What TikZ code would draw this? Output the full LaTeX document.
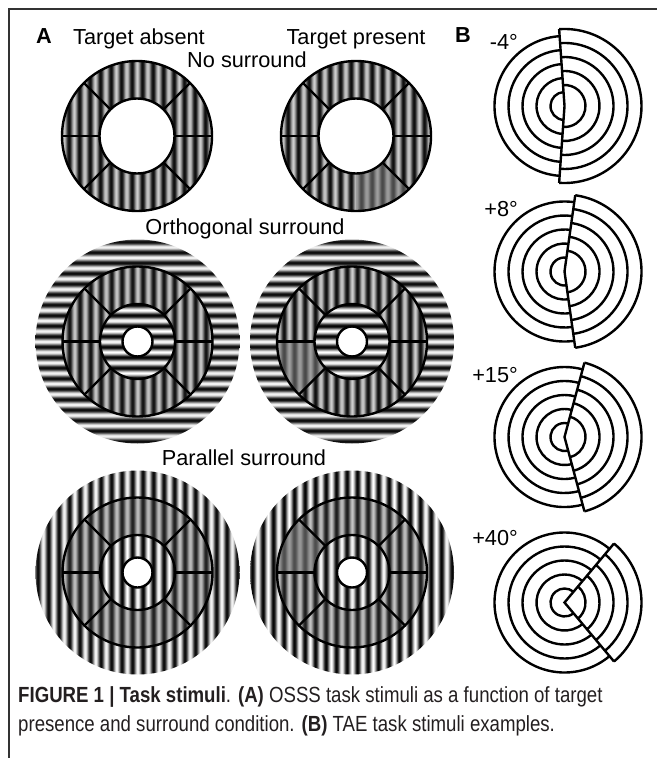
\documentclass[tikz,border=0pt]{standalone}
\usepackage{fontspec}
\setmainfont{Liberation Sans}
\newfontfamily\capfont[FakeStretch=0.85]{Liberation Sans}
\definecolor{captxt}{HTML}{231F20}
\definecolor{framec}{HTML}{333333}

% ---------- sinusoid-like gratings built as shadings ----------
\newcommand\mkcols[3]{%
  \pgfmathsetmacro\ga{#2}\colorlet{#10}{white!\ga!black}%
  \pgfmathsetmacro\ga{#2+0.146*(#3-#2)}\colorlet{#11}{white!\ga!black}%
  \pgfmathsetmacro\ga{#2+0.5*(#3-#2)}\colorlet{#12}{white!\ga!black}%
  \pgfmathsetmacro\ga{#2+0.854*(#3-#2)}\colorlet{#13}{white!\ga!black}%
  \pgfmathsetmacro\ga{#3}\colorlet{#14}{white!\ga!black}%
}
\newcommand\mkstops[1]{%
  \xdef\gstops{color(0bp)=(#10)}%
  \foreach \k in {1,...,168}{%
    \pgfmathtruncatemacro\m{mod(\k,8)}%
    \pgfmathsetmacro\pos{\k*1.3125}%
    \ifcase\m\def\ci{0}\or\def\ci{1}\or\def\ci{2}\or\def\ci{3}\or\def\ci{4}\or\def\ci{3}\or\def\ci{2}\or\def\ci{1}\fi
    \xdef\gstops{\gstops; color(\pos bp)=(#1\ci)}%
  }%
}
\newcommand\mkgrat[1]{%
  \mkstops{c#1}%
  \edef\tmp{\noexpand\pgfdeclarehorizontalshading{V#1}{220.5bp}{\gstops}}\tmp
  \edef\tmp{\noexpand\pgfdeclareverticalshading{H#1}{220.5bp}{\gstops}}\tmp
}
\mkcols{cF}{0}{100}\mkgrat{F}   % full contrast surround
\mkcols{cT}{4}{80}\mkgrat{T}    % target annulus
\mkcols{cS}{28}{62}\mkgrat{S}   % target segment (low contrast)
\mkcols{cP}{10}{76}\mkgrat{P}   % parallel annulus
\mkcols{cQ}{30}{60}\mkgrat{Q}   % parallel target segment

\tikzset{
  shnode/.style={inner sep=0pt, outer sep=0pt},
  ln/.style={line width=2.4bp, black},
  lbl/.style={font=\fontsize{21.8}{26}\selectfont, inner sep=0pt, anchor=base},
  lblb/.style={font=\fontsize{21.8}{26}\selectfont\bfseries, inner sep=0pt, anchor=base},
  capnode/.style={font=\capfont\fontsize{22}{26}\selectfont, text=captxt, inner sep=0pt, anchor=base west},
}
\newcommand\fillcirc[3]{\begin{scope}\clip (#1) circle[radius=#2];\node[shnode] at (#1) {\pgfuseshading{#3}};\end{scope}}
\newcommand\fillseg[4]{\begin{scope}\clip (#1) -- ++(#2:75) arc[start angle=#2, end angle=#3, radius=75] -- cycle;\node[shnode] at (#1) {\pgfuseshading{#4}};\end{scope}}
\newcommand\spokes[1]{\foreach \a in {0,45,135,180,225,315}{\draw[ln] (#1) ++(\a:37.5) -- ++(\a:37.5);}}
\newcommand\tae[2]{%
  \pgfmathsetmacro\aa{90-#2}\pgfmathsetmacro\bb{270+#2}%
  \foreach \r in {14,28,42,56,70}{\draw[ln] (#1) ++(\aa:\r) arc[start angle=\aa, end angle=\bb, radius=\r];}
  \foreach \r in {21,35,49,63,77}{\draw[ln] (#1) ++(-\aa:\r) arc[start angle=-\aa, end angle=\aa, radius=\r];}
  \draw[ln, line join=miter] (#1) ++(\aa:77) -- (#1) -- ++(-\aa:77);
}

\begin{document}
\begin{tikzpicture}[x=1bp, y=-1bp]
\useasboundingbox (0,0) rectangle (657,758);
\fill[white] (0,0) rectangle (657,758);

% frame
\draw[framec, line width=1.4bp] (657,9) -- (9,9) -- (9,758);

% ---------- panel A ----------
\node[lblb] (labA) at (44,44) {A};
\node[lbl] (tabs) at (139,45) {Target absent};
\node[lbl] (tpres) at (356,45) {Target present};
\node[lbl] (nos) at (247,68) {No surround};
\node[lbl] (orth) at (245,234) {Orthogonal surround};
\node[lbl] (par) at (244,465) {Parallel surround};

\coordinate (n1) at (137,136);
\coordinate (n2) at (356,136);
\coordinate (o1) at (137.5,341.5);
\coordinate (o2) at (352,341.5);
\coordinate (p1) at (137.5,572.5);
\coordinate (p2) at (352,572.5);

% no surround
\foreach \c/\t in {n1/0,n2/1}{
  \fillcirc{\c}{75}{VT}
  \ifnum\t=1 \fillseg{\c}{45}{90}{VS}\fi
  \fill[white] (\c) circle[radius=37.5];
  \draw[ln] (\c) circle[radius=75];
  \draw[ln] (\c) circle[radius=37.5];
  \spokes{\c}
}

% orthogonal surround
\foreach \c/\t in {o1/0,o2/1}{
  \fillcirc{\c}{102}{HF}
  \fillcirc{\c}{75}{VT}
  \ifnum\t=1 \fillseg{\c}{135}{180}{VS}\fi
  \fillcirc{\c}{37.5}{HF}
  \filldraw[ln, fill=white] (\c) circle[radius=15];
  \draw[ln] (\c) circle[radius=75];
  \draw[ln] (\c) circle[radius=37.5];
  \spokes{\c}
}

% parallel surround
\foreach \c/\t in {p1/0,p2/1}{
  \fillcirc{\c}{102}{VF}
  \fillcirc{\c}{75}{VP}
  \ifnum\t=1 \fillseg{\c}{180}{225}{VQ}\fi
  \fillcirc{\c}{37.5}{VF}
  \filldraw[ln, fill=white] (\c) circle[radius=15];
  \draw[ln] (\c) circle[radius=75];
  \draw[ln] (\c) circle[radius=37.5];
  \spokes{\c}
}

% ---------- panel B ----------
\node[lblb] (labB) at (463,43) {B};
\coordinate (b1) at (564.5,106);
\coordinate (b2) at (564.5,271.5);
\coordinate (b3) at (564.5,437);
\coordinate (b4) at (564.5,602.5);
\node[lbl, anchor=base east] (d1) at (518,50) {-4°};
\node[lbl, anchor=base east] (d2) at (518,216.5) {+8°};
\node[lbl, anchor=base east] (d3) at (518,382) {+15°};
\node[lbl, anchor=base east] (d4) at (518,545) {+40°};
\tae{b1}{-4}
\tae{b2}{8}
\tae{b3}{15}
\tae{b4}{40}

% ---------- caption ----------
\node[capnode] (cap1) at (18,702) {\textbf{FIGURE 1 | Task stimuli}. \textbf{(A)} OSSS task stimuli as a function of target};
\node[capnode] (cap2) at (18,731) {presence and surround condition. \textbf{(B)} TAE task stimuli examples.};
\end{tikzpicture}
\end{document}
